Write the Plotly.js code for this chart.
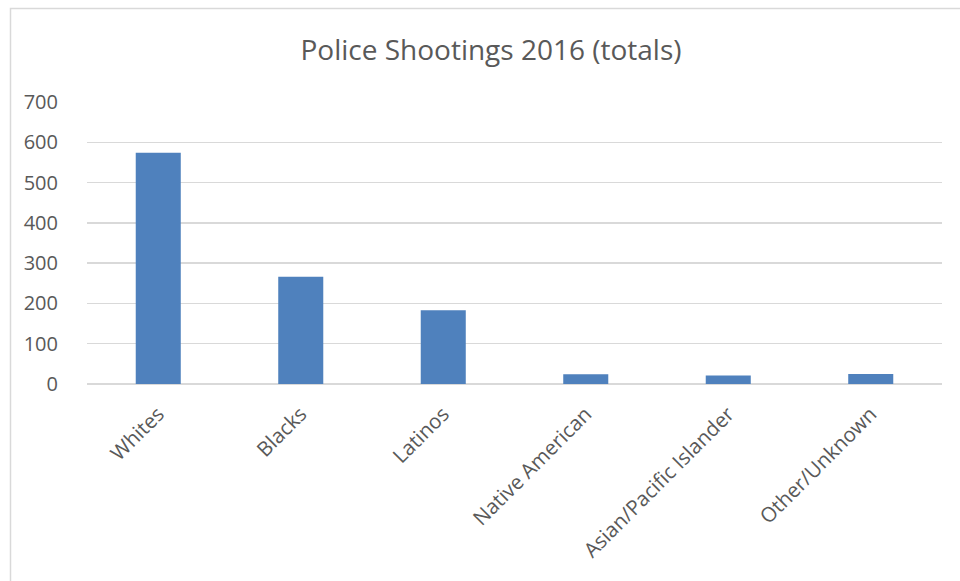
<!DOCTYPE html>
<html>
<head>
<meta charset="utf-8">
<script src="https://cdn.plot.ly/plotly-3.0.1.min.js"></script>
<style>html,body{margin:0;padding:0;background:#fff;}#chart{width:960px;height:581px;}</style>
</head>
<body>
<div id="chart"></div>
<script>
const categories = ["Whites", "Blacks", "Latinos", "Native American", "Asian/Pacific Islander", "Other/Unknown"];
const totals = [574, 266, 183, 24, 21, 25];
const yTicks = [0, 100, 200, 300, 400, 500, 600, 700];

const W = 960, H = 581;
const L = 87, R = 18, T = 102, B = 197;
const pw = W - L - R, ph = H - T - B;
function px(x) { return (x - L) / pw; }
function py(y) { return (H - B - y) / ph; }

const trace = {
  type: "bar",
  x: categories,
  y: totals,
  marker: {color: "#4F81BD", line: {width: 0}},
  hoverinfo: "x+y"
};

const layout = {
  width: W, height: H,
  margin: {l: L, r: R, t: T, b: B, pad: 0},
  paper_bgcolor: "#ffffff",
  plot_bgcolor: "#ffffff",
  font: {family: "Open Sans, sans-serif", color: "#595959", size: 20},
  title: {
    text: "Police Shootings 2016 (totals)",
    font: {family: "Open Sans, sans-serif", size: 28, color: "#595959"},
    x: px(491), xanchor: "center", xref: "paper",
    y: 1 - 50 / H, yanchor: "middle", yref: "container"
  },
  bargap: 0.684,
  showlegend: false,
  xaxis: {
    type: "category",
    tickangle: -45,
    showgrid: false,
    showline: false,
    zeroline: false,
    ticks: "outside",
    ticklen: 9,
    tickcolor: "rgba(0,0,0,0)",
    tickfont: {family: "Open Sans, sans-serif", size: 20.5, color: "#595959"},
    automargin: false
  },
  yaxis: {
    range: [0, 700],
    tickvals: yTicks,
    ticktext: yTicks.map(String),
    showgrid: true,
    gridcolor: "#d9d9d9",
    gridwidth: 1.3,
    zeroline: true,
    zerolinecolor: "#d9d9d9",
    zerolinewidth: 1.3,
    showline: false,
    ticks: "outside",
    ticklen: 24,
    tickcolor: "rgba(0,0,0,0)",
    tickfont: {family: "Open Sans, sans-serif", size: 20, color: "#595959"},
    automargin: false
  },
  shapes: [{
    type: "rect", xref: "paper", yref: "paper",
    x0: px(10.5), x1: px(1000), y0: py(620), y1: py(8.5),
    line: {color: "#d9d9d9", width: 1.5},
    fillcolor: "rgba(0,0,0,0)",
    layer: "below"
  }]
};

Plotly.newPlot("chart", [trace], layout, {displayModeBar: false, staticPlot: true});
</script>
</body>
</html>
